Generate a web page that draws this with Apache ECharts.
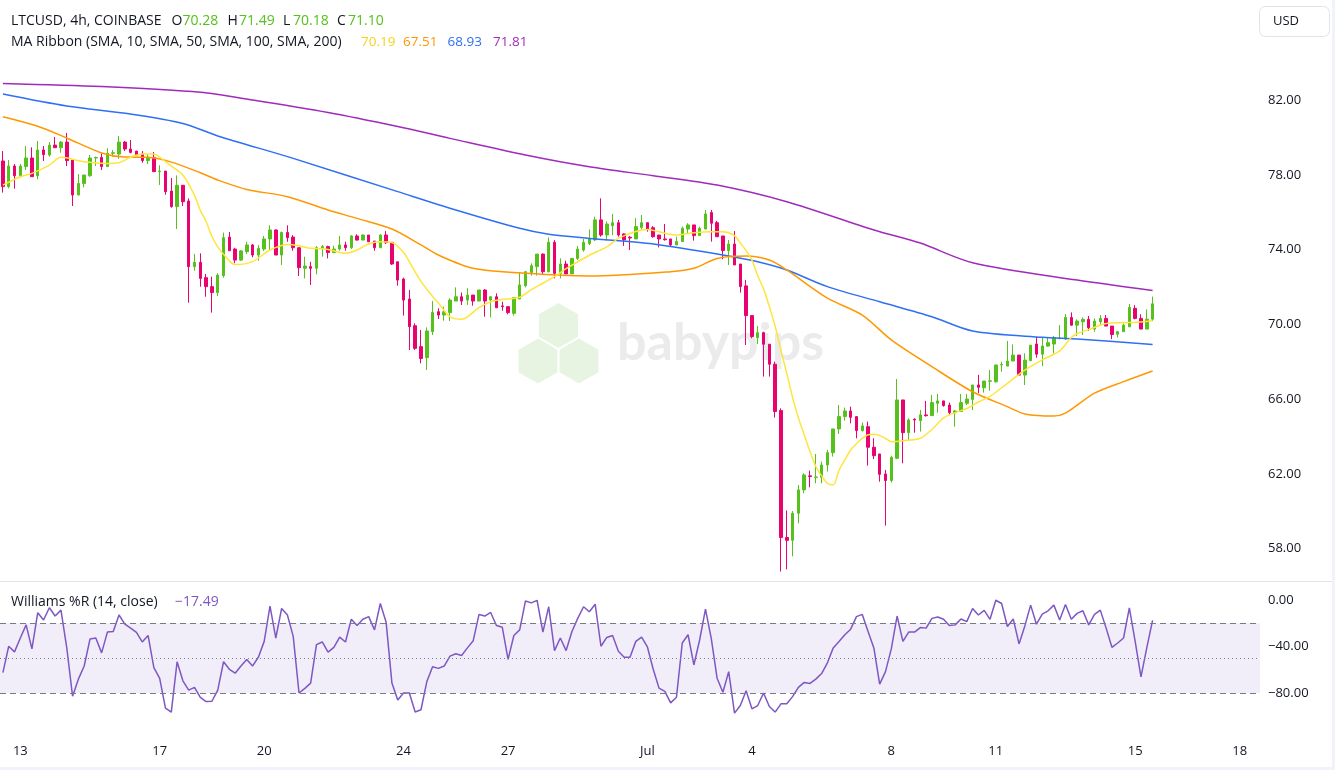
<!DOCTYPE html>
<html><head><meta charset="utf-8">
<script src="https://cdn.jsdelivr.net/npm/echarts@6/dist/echarts.min.js"></script>
<style>html,body{margin:0;padding:0;background:#fff}#c{width:1335px;height:770px}</style>
</head><body><div id="c"></div><script>
// ---------- DATA ----------
const opens = [78.74,77.37,78.47,77.95,78.44,78.90,77.95,79.33,79.06,79.59,79.45,79.75,78.79,76.92,77.54,77.95,78.90,78.93,78.44,79.15,79.11,79.75,79.38,79.27,79.11,78.76,78.93,78.17,78.20,77.13,76.30,77.44,76.60,73.09,73.32,72.50,72.02,71.70,72.61,74.67,74.03,73.44,73.89,74.25,73.71,74.03,74.57,75.05,73.71,74.92,74.67,74.10,73.00,73.09,73.00,74.10,74.16,73.84,74.03,74.25,74.10,74.73,74.51,74.78,74.46,74.10,74.78,74.39,73.35,72.43,71.36,69.93,68.81,68.22,69.61,70.68,70.50,70.63,71.25,71.48,71.30,71.57,71.25,71.84,71.30,71.48,70.99,70.95,70.59,71.36,72.07,72.78,73.09,73.76,72.82,74.39,72.73,73.23,72.70,73.53,73.98,74.33,74.52,75.59,74.78,75.28,75.44,74.84,74.66,74.57,75.19,75.44,75.17,74.78,74.57,74.57,74.25,74.43,75.10,75.32,74.75,75.10,75.98,75.44,74.73,73.95,74.30,73.23,72.06,70.47,69.29,69.56,68.94,67.87,65.39,58.60,58.45,59.90,61.15,61.90,61.82,61.82,62.48,63.14,64.41,65.07,65.37,65.07,64.32,64.53,63.43,63.07,62.00,61.65,62.84,65.96,64.21,64.93,64.85,65.16,65.12,65.78,65.91,65.69,65.28,65.34,65.78,65.99,66.76,66.61,66.96,66.93,67.83,67.77,68.04,68.36,67.29,68.06,68.95,68.41,68.84,68.95,69.25,69.22,70.37,69.96,70.14,70.27,69.75,70.14,70.32,69.91,69.48,69.61,69.87,70.86,70.32,69.75,70.28];
const highs = [79.27,78.79,78.58,78.58,79.54,79.47,79.81,79.54,79.75,80.02,79.81,80.24,78.79,78.04,77.99,79.06,78.97,79.15,79.42,79.33,80.08,79.81,79.86,79.27,79.27,79.11,79.22,78.51,78.20,77.83,77.97,77.44,76.74,73.77,73.80,72.70,72.55,72.73,74.91,74.94,74.10,73.98,74.42,74.30,74.25,74.73,75.30,75.08,74.96,75.30,74.78,74.10,73.62,73.35,74.19,74.25,74.21,74.21,74.73,74.42,74.78,74.82,74.82,74.78,74.46,74.82,74.99,74.39,73.35,72.50,71.84,70.06,69.70,69.84,71.25,70.86,70.95,71.39,71.98,71.71,71.93,71.57,71.84,71.89,71.48,71.66,71.21,70.95,71.43,72.78,72.82,73.26,73.76,73.80,74.65,74.51,73.53,73.41,73.53,74.19,74.57,75.08,75.76,76.74,75.50,75.91,75.59,74.87,74.73,75.68,75.85,75.44,75.26,74.78,75.37,74.57,74.69,75.23,75.41,75.32,75.23,76.12,76.12,75.53,74.73,74.52,74.99,73.23,72.38,70.47,69.92,69.61,68.94,68.01,65.51,60.05,60.02,61.41,62.04,62.18,63.07,62.66,63.29,64.41,65.69,65.55,65.60,65.07,64.75,64.80,63.91,63.07,62.22,62.98,67.08,65.96,64.98,64.98,65.42,65.91,66.23,66.28,65.91,65.82,65.42,66.28,66.28,66.76,67.30,66.97,67.56,67.83,68.00,69.11,68.93,68.36,68.45,68.89,69.34,69.29,69.29,69.38,69.96,70.55,70.64,70.27,70.37,70.45,70.32,70.50,70.50,69.91,69.64,70.05,71.09,71.03,70.54,70.80,71.49];
const lows = [77.05,77.28,77.26,77.87,78.26,77.90,77.76,78.74,78.97,79.45,79.18,78.47,76.33,76.92,77.33,77.90,78.47,78.26,78.44,78.97,78.86,79.27,79.15,79.01,78.65,78.58,78.17,77.46,76.94,76.24,75.10,76.33,71.16,72.87,72.02,71.48,70.63,71.52,72.50,73.94,73.27,73.39,73.76,73.59,73.41,73.93,73.94,73.71,73.18,74.42,73.94,72.59,72.46,72.11,72.68,73.62,73.53,73.84,73.94,73.94,74.03,74.48,74.51,74.42,73.94,74.10,74.30,73.18,72.07,70.47,68.63,68.63,67.92,67.56,69.43,70.29,70.20,70.18,71.25,71.04,71.04,71.00,71.25,70.41,70.38,70.89,70.73,70.54,70.47,71.36,71.98,72.61,72.61,72.68,72.78,72.46,72.46,72.70,72.70,73.44,73.89,74.24,74.46,74.69,74.48,74.78,74.69,74.20,73.98,74.57,75.09,74.96,74.64,74.12,74.48,74.19,74.25,74.43,74.87,74.48,74.75,75.10,74.43,74.69,73.48,73.18,73.18,71.70,68.90,69.26,68.95,67.21,67.21,65.02,56.78,56.90,57.60,59.36,60.97,61.29,61.50,61.50,62.13,62.93,64.14,64.85,64.71,63.91,64.27,62.45,62.80,61.59,59.24,61.54,62.79,62.57,63.78,64.21,64.27,65.07,65.12,65.28,65.60,65.16,64.53,65.34,65.69,65.42,66.32,66.35,66.45,66.88,67.47,67.77,68.04,67.29,66.76,68.04,68.22,67.77,68.81,68.45,69.20,69.16,69.93,69.38,69.43,69.66,69.61,69.96,69.91,69.21,69.30,69.61,69.87,70.27,69.75,69.75,70.18];
const closes = [77.37,78.47,77.95,78.47,78.90,77.90,79.33,79.08,79.59,79.45,79.75,78.76,76.92,77.54,77.99,78.90,78.93,78.44,79.15,79.18,79.75,79.38,79.20,79.06,78.76,78.93,78.17,78.20,77.10,76.30,77.44,76.56,73.09,73.32,72.46,72.02,71.70,72.64,74.64,73.94,73.44,73.93,74.25,73.71,74.07,74.57,75.05,73.71,74.92,74.64,74.10,73.03,73.12,73.00,74.10,74.16,73.84,74.03,74.25,74.10,74.73,74.51,74.78,74.42,74.10,74.78,74.37,73.23,72.37,71.30,69.88,68.72,68.18,69.65,70.64,70.50,70.68,71.30,71.48,71.25,71.57,71.25,71.84,71.25,71.48,70.89,70.95,70.63,71.43,72.11,72.82,73.14,73.76,72.82,74.39,72.73,73.23,72.70,73.53,74.03,74.39,74.60,75.59,74.78,75.37,75.44,74.78,74.52,74.62,75.23,75.44,75.10,74.69,74.57,74.53,74.25,74.43,75.14,75.32,74.75,75.14,75.91,75.41,74.69,73.95,74.30,73.18,72.02,70.47,69.35,69.56,68.94,67.87,65.34,58.60,58.45,59.90,61.15,61.95,61.86,61.84,62.48,63.14,64.41,65.07,65.37,65.03,64.32,64.57,63.43,62.98,61.98,61.65,62.89,65.96,64.21,64.89,64.89,65.16,65.12,65.82,65.91,65.66,65.28,65.37,65.82,66.01,66.76,66.64,66.97,66.98,67.83,67.85,68.04,68.36,67.29,68.09,68.89,68.41,68.84,69.02,69.30,69.27,70.37,69.96,70.18,70.27,69.82,70.18,70.32,69.91,69.46,69.61,69.96,70.91,70.32,69.75,70.28,71.10];

// Moving averages: [candle index, value]
const sma10 = [[0,77.45],[3,77.90],[5,78.08],[8,78.52],[10,78.94],[14,78.70],[18,78.61],[20,78.65],[22,78.94],[24,79.11],[26,79.11],[27,78.94],[29,78.47],[31,77.99],[33,76.9],[34,76.1],[35,75.5],[36,74.7],[37,74.15],[38,73.75],[40,73.2],[43,73.36],[46,73.98],[49,74.28],[51,74.21],[53,74.07],[56,74.01],[59,73.80],[61,73.98],[63,74.30],[65,74.42],[67,74.38],[69,73.85],[70,73.35],[72,72.30],[74,71.5],[75,71.15],[77,70.41],[79,70.27],[80,70.4],[82,70.9],[84,71.21],[86,71.33],[89,71.45],[91,71.86],[93,72.20],[95,72.55],[97,72.98],[101,73.70],[104,74.15],[106,74.60],[109,74.97],[111,75.08],[113,74.95],[116,74.78],[119,74.90],[122,74.95],[124,74.95],[126,74.75],[127,74.35],[128,73.95],[129,73.44],[130,72.6],[131,71.9],[132,70.95],[133,69.9],[134,68.6],[135,67.38],[136,66.1],[137,65.0],[138,64.1],[139,63.2],[140,62.4],[141,61.9],[142,61.5],[143,61.42],[144,62.2],[145,62.75],[146,63.28],[147,63.62],[148,63.90],[149,64.10],[150,64.12],[151,64.05],[152,63.90],[153,63.73],[155,63.78],[158,63.91],[160,64.38],[162,65.0],[164,65.28],[166,65.50],[168,65.85],[170,66.15],[173,66.85],[176,67.55],[179,68.10],[182,68.58],[184,69.30],[185,69.50],[187,69.72],[190,70.05],[193,70.09],[196,70.13],[198,70.19]];
const sma50 = [[0,81.11],[6,80.6],[11,79.97],[17,79.17],[21,78.95],[25,78.94],[29,78.68],[34,78.11],[37,77.72],[42,77.22],[49,76.83],[56,76.12],[61,75.67],[67,75.1],[72,74.25],[75,73.71],[81,73.00],[90,72.73],[101,72.59],[115,72.82],[119,73.00],[123,73.53],[128,73.66],[132,73.44],[135,72.91],[142,71.40],[148,70.50],[153,69.17],[160,67.74],[167,66.40],[173,65.60],[176,65.21],[181,65.10],[183,65.25],[188,66.32],[193,66.94],[198,67.51]];
const sma100 = [[0,82.32],[11,81.68],[22,81.25],[31,80.75],[37,80.08],[50,78.88],[68,77.10],[78,76.12],[89,75.14],[94,74.82],[101,74.60],[112,74.30],[125,73.66],[130,73.35],[135,72.91],[142,72.02],[151,71.21],[160,70.41],[167,69.65],[179,69.31],[185,69.22],[198,68.93]];
const sma200 = [[0,82.89],[17,82.72],[34,82.41],[43,82.0],[56,81.33],[68,80.58],[77,79.95],[90,79.06],[101,78.43],[112,77.95],[123,77.45],[135,76.56],[150,75.05],[158,74.35],[167,73.30],[185,72.37],[198,71.81]];

const willR = [-62.5,-39.8,-44.6,-32.7,-21.4,-42.1,-10.9,-17.2,-6.7,-13.8,-8.7,-41.2,-82.8,-68.1,-56.8,-33.6,-32.7,-45.5,-27.6,-27.1,-12.9,-20.8,-24.2,-27.9,-36.1,-30.5,-58.2,-67.5,-93.0,-96.4,-53.1,-69.5,-77.5,-75.2,-83.7,-87.4,-87.1,-77.5,-53.1,-59.6,-63.0,-56.8,-51.1,-56.8,-49.2,-35.6,-5.3,-32.7,-7.3,-12.9,-31.3,-80.0,-76.0,-71.5,-38.4,-36.1,-44.9,-40.7,-31.9,-36.1,-16.6,-22.0,-16.6,-14.3,-25.7,-3.0,-19.2,-71.5,-86.0,
-80.0,-80.0,-96.4,-94.4,-70.4,-57.4,-58.8,-56.8,-48.3,-46.3,-47.7,-41.2,-35.0,-12.4,-13.8,-10.7,-22.0,-23.4,-51.1,-30.5,-25.7,-0.8,-2.5,-0.3,-27.6,-5.8,-43.5,-32.7,-43.5,-27.1,-15.8,-5.8,-10.1,-3.6,-39.8,-32.2,-30.5,-44.1,-49.2,-49.2,-35.6,-31.9,-40.4,-59.6,-75.8,-78.6,-88.5,-83.7,-37.0,-29.9,-55.9,-34.2,-7.8,-33.3,-67.3,-79.4,-61.6,-97.3,-90.8,-78.0,-93.6,-90.8,-80.0,-91.6,-96.4,-89.3,-89.3,-83.1,
-75.2,-70.9,-71.8,-68.1,-63.3,-54.0,-41.2,-35.6,-29.9,-25.1,-14.3,-12.4,-27.1,-41.2,-72.4,-61.6,-42.1,-13.8,-35.6,-27.6,-27.6,-23.7,-24.2,-15.8,-14.6,-16.6,-22.0,-21.4,-16.3,-18.6,-7.3,-12.9,-9.0,-16.6,-0.2,-3.0,-22.8,-16.3,-37.8,-22.3,-4.4,-20.8,-12.1,-9.3,-4.4,-17.2,-3.9,-16.6,-11.5,-9.3,-21.4,-12.4,-8.7,-24.2,-40.7,-37.0,-32.7,-6.7,-35.6,-66.1,-41.2,-17.49];

const tickDates = ['06-13 00:00','06-17 00:00','06-20 00:00','06-24 00:00','06-27 00:00','07-01 00:00','07-04 00:00','07-08 00:00','07-11 00:00','07-15 00:00','07-18 00:00'];
const tickTexts = ['13','17','20','24','27','Jul','4','8','11','15','18'];
const priceTicks = [58,62,66,70,74,78,82];
const wrTicks = [0,-40,-80];

// ---------- CATEGORIES (4h candles from 2024-06-12 12:00) ----------
const START = Date.UTC(2024,5,12,12), STEP = 4*3600*1000, NCAT = 217;
const pad = n => String(n).padStart(2,'0');
const categories = [];
for (let k = 0; k < NCAT; k++) {
  const d = new Date(START + k*STEP);
  categories.push(pad(d.getUTCMonth()+1)+'-'+pad(d.getUTCDate())+' '+pad(d.getUTCHours())+':00');
}
const tickMap = {}; tickDates.forEach((d,i)=>tickMap[d]=tickTexts[i]);

// ---------- STYLE ----------
const GREEN = '#56c11c', RED = '#e8036e', DARK = '#131722';
const FONT = "'Open Sans', sans-serif";
const C10 = '#ffe53b', C50 = '#ff9800', C100 = '#2f6ff5', C200 = '#a02bbb', CWR = '#7e57c2';
const fmtNum = v => (v < 0 ? '\u2212' : '') + Math.abs(v).toFixed(2);

const candles = opens.map((o,i)=>[o, closes[i], lows[i], highs[i]]);
const last = opens.length - 1;

function txt(x, y, s, color, size) {
  return {type:'text', x, y, z: 10, style:{text:s, fill:color, fontSize:size||14, fontFamily:FONT, verticalAlign:'middle', align:'left'}};
}
function hex(cx, cy, r) {
  const pts = [];
  for (let i = 0; i < 6; i++) { const a = Math.PI/180*(-90+60*i); pts.push([cx + r*Math.cos(a), cy + r*Math.sin(a)]); }
  return {type:'polygon', z:0, silent:true, shape:{points:pts}, style:{fill:'#e7f4e1'}};
}

const chart = echarts.init(document.getElementById('c'), null, {renderer:'canvas'});
chart.setOption({
  animation: false,
  backgroundColor: '#ffffff',
  grid: [
    {left: 0, right: 75, top: 0, height: 580},
    {left: 0, right: 75, top: 582, height: 148}
  ],
  xAxis: [
    {type:'category', gridIndex:0, data:categories, boundaryGap:true, show:false},
    {type:'category', gridIndex:1, data:categories, boundaryGap:true,
     axisLine:{show:false}, axisTick:{show:false}, splitLine:{show:false},
     axisLabel:{interval:(i,v)=>tickMap[v]!==undefined, formatter:v=>tickMap[v]||'', color:DARK, fontSize:13, fontFamily:FONT, margin:15}}
  ],
  yAxis: [
    {type:'value', gridIndex:0, position:'right', min:56.33, max:87.35, scale:true,
     splitLine:{show:false}, axisLine:{show:false}, axisTick:{show:false},
     axisLabel:{customValues:priceTicks, formatter:v=>fmtNum(v), color:DARK, fontSize:13, fontFamily:FONT, margin:8}},
    {type:'value', gridIndex:1, position:'right', min:-111.83, max:15.48,
     splitLine:{show:false}, axisLine:{show:false}, axisTick:{show:false},
     axisLabel:{customValues:wrTicks, formatter:v=>fmtNum(v), color:DARK, fontSize:13, fontFamily:FONT, margin:8}}
  ],
  series: [
    {type:'candlestick', xAxisIndex:0, yAxisIndex:0, data:candles, barWidth:3, z:2,
     itemStyle:{color:GREEN, color0:RED, borderColor:GREEN, borderColor0:RED, borderWidth:1}},
    {type:'line', xAxisIndex:0, yAxisIndex:0, data:sma200, showSymbol:false, smooth:0.3, z:3, lineStyle:{color:C200, width:1.5}},
    {type:'line', xAxisIndex:0, yAxisIndex:0, data:sma100, showSymbol:false, smooth:0.3, z:3, lineStyle:{color:C100, width:1.5}},
    {type:'line', xAxisIndex:0, yAxisIndex:0, data:sma50, showSymbol:false, smooth:0.3, z:3, lineStyle:{color:C50, width:1.5}},
    {type:'line', xAxisIndex:0, yAxisIndex:0, data:sma10, showSymbol:false, smooth:0.3, z:3, lineStyle:{color:C10, width:1.5}},
    {type:'line', xAxisIndex:1, yAxisIndex:1, data:willR, showSymbol:false, z:3, lineStyle:{color:CWR, width:1.5},
     markArea:{silent:true, itemStyle:{color:'rgba(126,87,194,0.1)'}, data:[[{yAxis:-20},{yAxis:-80}]]},
     markLine:{silent:true, symbol:['none','none'], label:{show:false},
       data:[
         {yAxis:-20, lineStyle:{color:'#787b86', type:[6,4], width:1}},
         {yAxis:-50, lineStyle:{color:'#787b86', type:[1,3], width:1}},
         {yAxis:-80, lineStyle:{color:'#787b86', type:[6,4], width:1}}
       ]}}
  ],
  graphic: [
    hex(558.5, 325.5, 22.5), hex(538, 361, 22.5), hex(579, 361, 22.5),
    {type:'text', x:617, y:343, z:0, silent:true, style:{text:'babypips', fill:'#ebebeb', fontSize:52, fontWeight:'bold', fontFamily:"Lato, 'Open Sans', sans-serif", verticalAlign:'middle', align:'left'}},
    {type:'line', z:10, shape:{x1:0, y1:581.5, x2:1335, y2:581.5}, style:{stroke:'#e0e3eb', lineWidth:1}},
    {type:'rect', z:10, shape:{x:1332, y:0, width:3, height:770}, style:{fill:'#f0f3fa'}},
    {type:'rect', z:10, shape:{x:0, y:767, width:1335, height:3}, style:{fill:'#f0f3fa'}},
    {type:'rect', z:10, shape:{x:1259.5, y:6.5, width:70, height:30, r:6}, style:{fill:'#ffffff', stroke:'#e0e3eb', lineWidth:1}},
    txt(1273, 21.5, 'USD', DARK, 13),
    txt(11, 21, 'LTCUSD, 4h, COINBASE', DARK),
    txt(171.5, 21, 'O', DARK), txt(182.5, 21, opens[last].toFixed(2), GREEN),
    txt(227.5, 21, 'H', DARK), txt(239, 21, highs[last].toFixed(2), GREEN),
    txt(283, 21, 'L', DARK), txt(293, 21, lows[last].toFixed(2), GREEN),
    txt(337, 21, 'C', DARK), txt(348, 21, closes[last].toFixed(2), GREEN),
    txt(11, 42.5, 'MA Ribbon (SMA, 10, SMA, 50, SMA, 100, SMA, 200)', DARK),
    txt(361, 42.5, sma10[sma10.length-1][1].toFixed(2), '#f5d31a', 13.5),
    txt(403, 42.5, sma50[sma50.length-1][1].toFixed(2), C50, 13.5),
    txt(447.5, 42.5, sma100[sma100.length-1][1].toFixed(2), C100, 13.5),
    txt(493, 42.5, sma200[sma200.length-1][1].toFixed(2), C200, 13.5),
    txt(11, 602, 'Williams %R (14, close)', DARK),
    txt(175, 602, fmtNum(willR[willR.length-1]), CWR)
  ]
});
</script></body></html>
